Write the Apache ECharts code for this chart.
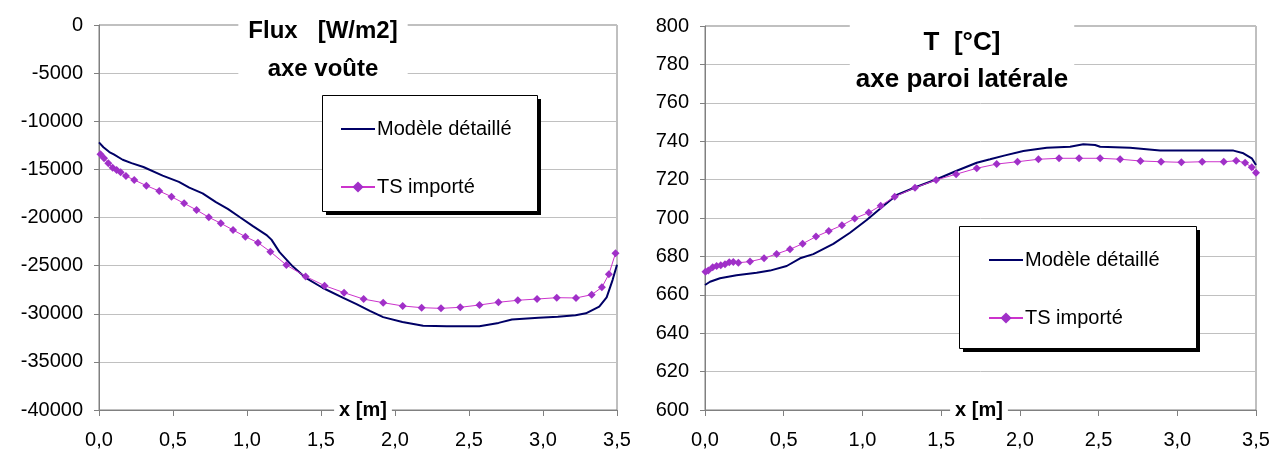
<!DOCTYPE html>
<html>
<head>
<meta charset="utf-8">
<script src="https://cdn.jsdelivr.net/npm/echarts@6/dist/echarts.min.js"></script>
<style>
  html, body { margin: 0; padding: 0; background: #fff; }
  #chart { width: 1288px; height: 455px; }
</style>
</head>
<body>
<div id="chart"></div>
<script>
// Flux - axe voûte : modèle détaillé (courbe continue)
let fluxModeleX = [0, 0.03, 0.07, 0.1, 0.16, 0.22, 0.3, 0.43, 0.54, 0.61, 0.7, 0.79, 0.87, 0.95, 1.04, 1.13, 1.165, 1.22, 1.31, 1.4, 1.51, 1.65, 1.74, 1.83, 1.92, 2.05, 2.19, 2.35, 2.57, 2.7, 2.79, 2.97, 3.1, 3.22, 3.29, 3.38, 3.43, 3.47, 3.5];
let fluxModeleY = [-12200, -12700, -13200, -13450, -14000, -14350, -14750, -15650, -16300, -16900, -17500, -18400, -19100, -19950, -20900, -21800, -22300, -23600, -25100, -26300, -27300, -28350, -29000, -29700, -30350, -30850, -31250, -31300, -31300, -30950, -30600, -30420, -30300, -30150, -29950, -29250, -28300, -26500, -24900];
// Flux - axe voûte : TS importé (points)
let fluxTsX = [0.01, 0.034, 0.063, 0.092, 0.119, 0.146, 0.182, 0.238, 0.32, 0.407, 0.49, 0.575, 0.659, 0.742, 0.823, 0.906, 0.989, 1.074, 1.158, 1.266, 1.396, 1.524, 1.656, 1.788, 1.92, 2.052, 2.18, 2.311, 2.441, 2.571, 2.699, 2.83, 2.96, 3.093, 3.223, 3.329, 3.398, 3.445, 3.49];
let fluxTsY = [-13430, -13850, -14370, -14820, -15060, -15300, -15690, -16100, -16690, -17250, -17840, -18530, -19220, -19980, -20600, -21300, -21990, -22620, -23550, -24940, -26120, -27080, -27810, -28480, -28850, -29190, -29370, -29440, -29330, -29090, -28810, -28600, -28470, -28330, -28360, -28020, -27250, -25900, -23720];

// T - axe paroi latérale : modèle détaillé
let tempModeleX = [0, 0.032, 0.095, 0.2, 0.328, 0.413, 0.519, 0.604, 0.688, 0.815, 0.921, 1.027, 1.133, 1.218, 1.345, 1.472, 1.599, 1.726, 1.811, 1.9, 2.022, 2.171, 2.319, 2.403, 2.478, 2.51, 2.7, 2.891, 3.357, 3.42, 3.473, 3.5];
let tempModeleY = [665.1, 666.8, 668.6, 670.2, 671.5, 672.6, 675.0, 679.0, 681.2, 686.5, 692.3, 699.0, 706.3, 712.0, 716.3, 720.2, 724.6, 728.8, 730.6, 732.5, 734.9, 736.6, 737.1, 738.4, 738.0, 737.1, 736.6, 735.1, 735.1, 733.7, 731.1, 727.6];
// T - axe paroi latérale : TS importé
let tempTsX = [0.003, 0.021, 0.049, 0.074, 0.1, 0.127, 0.154, 0.18, 0.212, 0.286, 0.375, 0.455, 0.54, 0.62, 0.705, 0.786, 0.87, 0.951, 1.04, 1.116, 1.205, 1.334, 1.468, 1.595, 1.726, 1.853, 1.985, 2.118, 2.249, 2.376, 2.51, 2.637, 2.766, 2.897, 3.026, 3.158, 3.295, 3.374, 3.431, 3.473, 3.5];
let tempTsY = [672.0, 672.6, 674.3, 675.0, 675.4, 675.9, 676.9, 677.1, 676.7, 677.3, 679.0, 681.3, 683.7, 686.6, 690.3, 693.2, 696.2, 699.8, 702.8, 706.4, 711.1, 715.8, 719.8, 722.8, 725.9, 728.1, 729.3, 730.6, 731.1, 731.1, 731.1, 730.6, 729.7, 729.3, 729.0, 729.3, 729.3, 729.8, 728.8, 726.4, 723.6];

let seriesNames = ['Modèle détaillé', 'TS importé'];

function zip(xs, ys) {
    return xs.map((x, i) => [x, ys[i]]);
}

let fontFamily = '"Liberation Sans", Arial, sans-serif';

function makeXAxis(gridIndex) {
    return {
        type: 'value',
        gridIndex: gridIndex,
        min: 0,
        max: 3.5,
        interval: 0.5,
        axisLine: { show: true, onZero: false, lineStyle: { color: '#808080', width: 1 } },
        axisTick: { show: true, inside: false, length: 6, lineStyle: { color: '#808080' } },
        axisLabel: {
            color: '#000',
            fontFamily: fontFamily,
            fontSize: 20,
            margin: 20,
            formatter: function (v) {
                return v.toFixed(1).replace('.', ',');
            }
        },
        splitLine: { show: false }
    };
}

function makeYAxis(gridIndex, min, max, interval) {
    return {
        type: 'value',
        gridIndex: gridIndex,
        min: min,
        max: max,
        interval: interval,
        axisLine: { show: true, onZero: false, lineStyle: { color: '#808080', width: 1 } },
        axisTick: { show: true, length: 5, lineStyle: { color: '#808080' } },
        axisLabel: {
            color: '#000',
            fontFamily: fontFamily,
            fontSize: 20,
            margin: 16,
            formatter: function (v) {
                return String(v);
            }
        },
        splitLine: { show: true, lineStyle: { color: '#c0c0c0', width: 1 } }
    };
}

function makeLegend(left, top) {
    return {
        data: [
            { name: seriesNames[0], itemStyle: { opacity: 0 } },
            { name: seriesNames[1] }
        ],
        orient: 'vertical',
        left: left,
        top: top,
        padding: 0,
        itemGap: 38,
        itemWidth: 34,
        itemHeight: 14,
        z: 8,
        textStyle: {
            color: '#000',
            fontFamily: fontFamily,
            fontSize: 20,
            padding: [0, 0, 0, -3]
        }
    };
}

// cadre de légende avec ombre portée (style Excel)
function legendBox(x, y, w, h) {
    return [
        { type: 'rect', z: 6, silent: true, shape: { x: x + 4, y: y + 4, width: w, height: h }, style: { fill: '#000' } },
        { type: 'rect', z: 7, silent: true, shape: { x: x + 0.5, y: y + 0.5, width: w, height: h }, style: { fill: '#fff', stroke: '#000', lineWidth: 1 } }
    ];
}

// titre d'axe x posé sur l'axe, fond blanc
function axisTitle(x, y) {
    return {
        type: 'text',
        z: 10,
        silent: true,
        style: {
            x: x,
            y: y,
            text: 'x [m]',
            align: 'center',
            verticalAlign: 'middle',
            font: 'bold 20px ' + fontFamily,
            fill: '#000',
            backgroundColor: '#fff',
            padding: [0, 5]
        }
    };
}

function modeleSeries(xi, data) {
    return {
        name: seriesNames[0],
        type: 'line',
        xAxisIndex: xi,
        yAxisIndex: xi,
        data: data,
        symbol: 'none',
        smooth: false,
        clip: false,
        lineStyle: { color: '#000066', width: 2 },
        itemStyle: { color: '#000066' },
        z: 3
    };
}

function tsSeries(xi, data) {
    return {
        name: seriesNames[1],
        type: 'line',
        xAxisIndex: xi,
        yAxisIndex: xi,
        data: data,
        symbol: 'diamond',
        symbolSize: 8,
        showAllSymbol: true,
        clip: false,
        lineStyle: { color: '#cc33cc', width: 1 },
        itemStyle: { color: '#a030c8', borderColor: '#a030c8', borderWidth: 0 },
        z: 4
    };
}

let myChart = echarts.init(document.getElementById('chart'), null, { renderer: 'canvas' });

let gridCommon = { show: true, borderColor: '#808080', borderWidth: 1, backgroundColor: 'transparent', containLabel: false, outerBoundsMode: 'none' };

let option = {
    backgroundColor: '#fff',
    animation: false,
    textStyle: { fontFamily: fontFamily },
    grid: [
        Object.assign({ left: 99, top: 25, width: 518, height: 385 }, gridCommon),
        Object.assign({ left: 705, top: 26, width: 551, height: 384 }, gridCommon)
    ],
    xAxis: [makeXAxis(0), makeXAxis(1)],
    yAxis: [makeYAxis(0, -40000, 0, 5000), makeYAxis(1, 600, 800, 20)],
    legend: [
        makeLegend(340, 119),
        makeLegend(988, 250)
    ],
    graphic: legendBox(322, 95, 215, 116).concat(legendBox(959, 226, 237, 122)).concat([
        axisTitle(363, 410),
        axisTitle(979, 410),
        {
            type: 'text',
            z: 10,
            style: {
                x: 323,
                y: 10,
                text: 'Flux   [W/m2]\naxe voûte',
                align: 'center',
                verticalAlign: 'top',
                font: 'bold 24px ' + fontFamily,
                lineHeight: 38,
                fill: '#000',
                backgroundColor: '#fff',
                padding: [2, 10, 4, 10]
            }
        },
        {
            type: 'text',
            z: 10,
            style: {
                x: 962,
                y: 22,
                text: 'T  [°C]\naxe paroi latérale',
                align: 'center',
                verticalAlign: 'top',
                font: 'bold 26px ' + fontFamily,
                lineHeight: 37,
                fill: '#000',
                backgroundColor: '#fff',
                padding: [2, 6, 4, 6]
            }
        }
    ]),
    series: [
        modeleSeries(0, zip(fluxModeleX, fluxModeleY)),
        tsSeries(0, zip(fluxTsX, fluxTsY)),
        modeleSeries(1, zip(tempModeleX, tempModeleY)),
        tsSeries(1, zip(tempTsX, tempTsY))
    ]
};

myChart.setOption(option);

window.addEventListener('resize', function () {
    myChart.resize();
});
</script>
</body>
</html>
